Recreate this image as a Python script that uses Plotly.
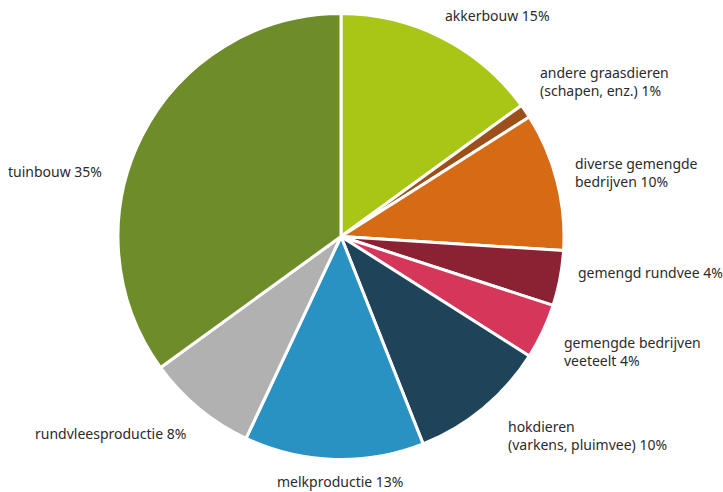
import plotly.graph_objects as go

# Share of farm types (percent), clockwise from 12 o'clock
labels = [
    "akkerbouw",
    "andere graasdieren<br>(schapen, enz.)",
    "diverse gemengde<br>bedrijven",
    "gemengd rundvee",
    "gemengde bedrijven<br>veeteelt",
    "hokdieren<br>(varkens, pluimvee)",
    "melkproductie",
    "rundvleesproductie",
    "tuinbouw",
]
values = [15, 1, 10, 4, 4, 10, 13, 8, 35]
colors = ["#a9c516", "#9c4f1b", "#d66a15", "#8a2234", "#d6365a",
          "#1f445a", "#2a92c3", "#b1b1b1", "#6f8c2b"]

# label placement in pixels (x, y centre, anchor)
label_pos = [
    (443, 16, "left"),
    (538, 82, "left"),
    (573, 172, "left"),
    (576, 272, "left"),
    (562, 351, "left"),
    (506, 435, "left"),
    (340, 481, "center"),
    (188, 433, "right"),
    (104, 171, "right"),
]

W, H = 723, 492
cx, cy, r = 341, 236.5, 223

fig = go.Figure(go.Pie(
    labels=labels,
    values=values,
    sort=False,
    direction="clockwise",
    rotation=0,
    marker=dict(colors=colors, line=dict(color="white", width=3)),
    textinfo="none",
    hoverinfo="label+percent",
    domain=dict(x=[(cx - r) / W, (cx + r) / W],
                y=[(H - cy - r) / H, (H - cy + r) / H]),
))

for lab, val, (px_, py_, anc) in zip(labels, values, label_pos):
    fig.add_annotation(
        x=px_ / W, y=1 - py_ / H, xref="paper", yref="paper",
        text=f"{lab} {val}%", showarrow=False,
        xanchor=anc, yanchor="middle", align="left",
        font=dict(family="Noto Sans", size=14, color="#2b2b2b"),
    )

fig.update_layout(
    width=W, height=H,
    margin=dict(l=0, r=0, t=0, b=0),
    showlegend=False,
    paper_bgcolor="white",
)

# drop the browser's default body margin so the figure sits at 0,0
fig.write_html("out.html",
               config={"displayModeBar": False},
               post_script="document.body.style.margin='0';document.body.style.overflow='hidden';")
